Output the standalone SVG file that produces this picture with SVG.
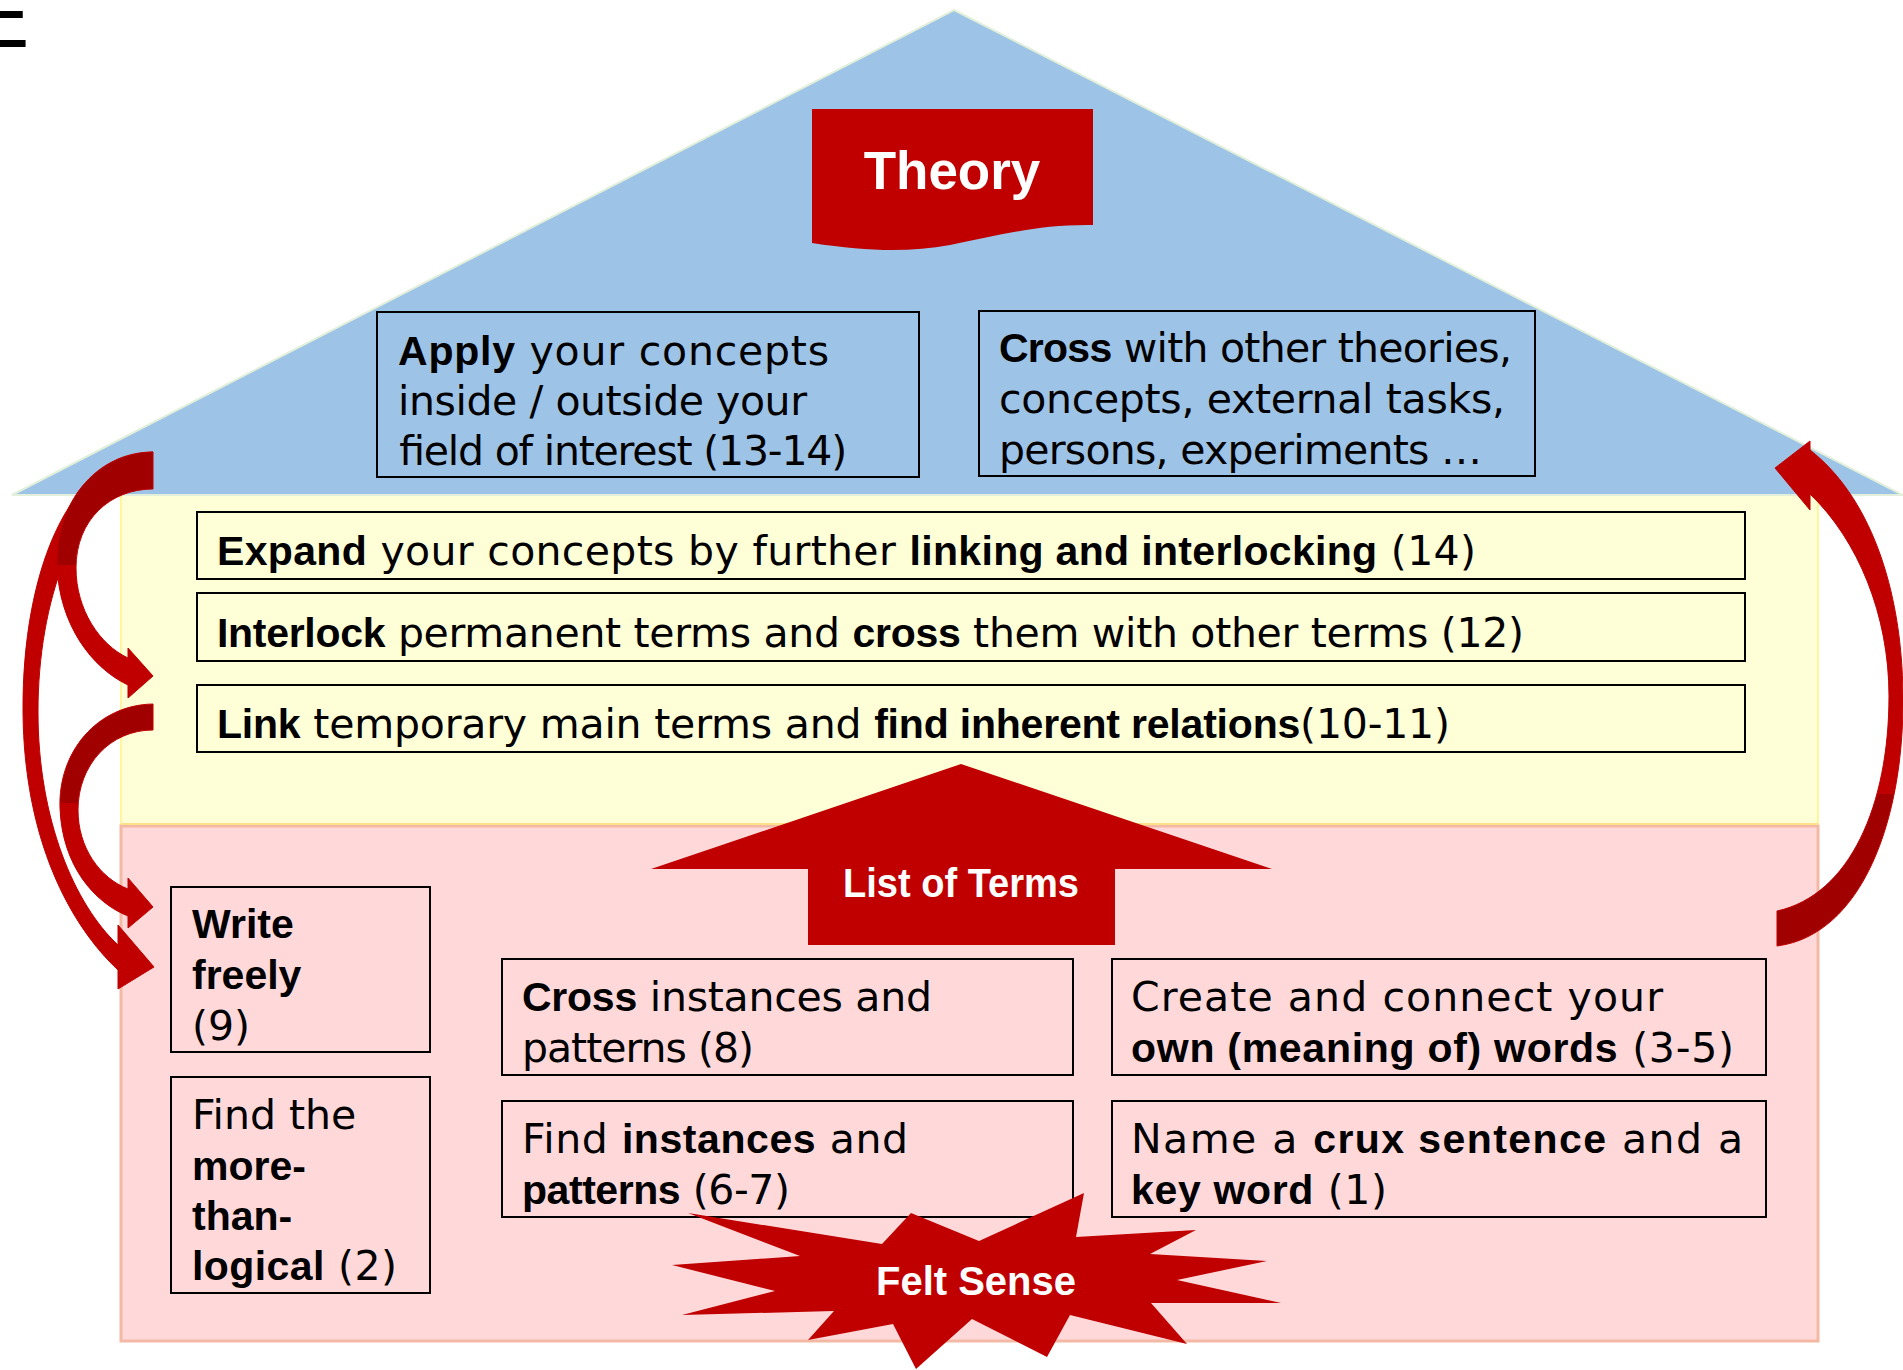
<svg xmlns="http://www.w3.org/2000/svg" width="1903" height="1370" viewBox="0 0 1903 1370">
<defs>
<style>
.box{fill:none;stroke:#000;stroke-width:2}
.t{font-family:"DejaVu Sans",sans-serif;font-size:41px;fill:#000}
.b{font-family:"Liberation Sans",Arial,sans-serif;font-weight:bold}
.w{font-family:"Liberation Sans",Arial,sans-serif;font-weight:bold;fill:#fff;text-anchor:middle}
.red{fill:#C00000}
</style>
<linearGradient id="gA" gradientUnits="userSpaceOnUse" x1="0" y1="452" x2="0" y2="698">
<stop offset="0" stop-color="#A00000"/><stop offset="0.46" stop-color="#A00000"/><stop offset="0.46" stop-color="#C00000"/><stop offset="1" stop-color="#C00000"/>
</linearGradient>
<linearGradient id="gB" gradientUnits="userSpaceOnUse" x1="0" y1="704" x2="0" y2="928">
<stop offset="0" stop-color="#A00000"/><stop offset="0.44" stop-color="#A00000"/><stop offset="0.44" stop-color="#C00000"/><stop offset="1" stop-color="#C00000"/>
</linearGradient>
<linearGradient id="gD" gradientUnits="userSpaceOnUse" x1="0" y1="441" x2="0" y2="946">
<stop offset="0" stop-color="#C00000"/><stop offset="0.7" stop-color="#C00000"/><stop offset="0.7" stop-color="#A00000"/><stop offset="1" stop-color="#A00000"/>
</linearGradient>
</defs>

<g id="background">
<rect x="121" y="495" width="1697" height="330" fill="#FFFFD7" stroke="#FFF59D" stroke-width="2"/>
<rect x="121" y="826" width="1697" height="515" fill="#FFD9D9" stroke="#F4B9A4" stroke-width="3"/>
<line x1="121" y1="824" x2="1818" y2="824" stroke="#FFE08A" stroke-width="2"/>
<polygon id="roof" points="954,10 1903,495 12,495" fill="#9DC3E6" stroke="#E2EFDA" stroke-width="2"/>
<text x="-16" y="47" font-family="Liberation Sans, Arial, sans-serif" font-size="92" fill="#000" transform="scale(0.62,1)">E</text>
</g>

<g id="theory">
<path class="red" d="M812,109 H1093 V225 C1040,224 1000,235 950,245 C910,252 870,252 812,243 Z"/>
<text class="w" x="952" y="189" font-size="53">Theory</text>
</g>

<g id="apply">
<rect class="box" x="377" y="312" width="542" height="165"/>
<text class="t" x="398" y="365" textLength="431"><tspan class="b">Apply</tspan> your concepts</text>
<text class="t" x="398" y="415" textLength="409">inside / outside your</text>
<text class="t" x="398" y="465" textLength="448">field of interest (13-14)</text>
</g>

<g id="cross-theories">
<rect class="box" x="979" y="311" width="556" height="165"/>
<text class="t" x="999" y="362" textLength="513"><tspan class="b">Cross</tspan> with other theories,</text>
<text class="t" x="999" y="413" textLength="506">concepts, external tasks,</text>
<text class="t" x="999" y="464" textLength="483">persons, experiments …</text>
</g>

<g id="expand">
<rect class="box" x="197" y="512" width="1548" height="67"/>
<text class="t" x="217" y="565" textLength="1259"><tspan class="b">Expand</tspan> your concepts by further <tspan class="b">linking and interlocking</tspan> (14)</text>
</g>

<g id="interlock">
<rect class="box" x="197" y="593" width="1548" height="68"/>
<text class="t" x="217" y="647" textLength="1307"><tspan class="b">Interlock</tspan> permanent terms and <tspan class="b">cross</tspan> them with other terms (12)</text>
</g>

<g id="link">
<rect class="box" x="197" y="685" width="1548" height="67"/>
<text class="t" x="217" y="738" textLength="1233"><tspan class="b">Link</tspan> temporary main terms and <tspan class="b">find inherent relations</tspan>(10-11)</text>
</g>

<g id="list-of-terms">
<polygon class="red" points="961,764 1272,869 1115,869 1115,945 808,945 808,869 651,869"/>
<text class="w" x="961" y="897" font-size="40" textLength="236" lengthAdjust="spacingAndGlyphs">List of Terms</text>
</g>

<g id="write-freely">
<rect class="box" x="171" y="887" width="259" height="165"/>
<text class="t" x="192" y="938"><tspan class="b">Write</tspan></text>
<text class="t" x="192" y="989"><tspan class="b">freely</tspan></text>
<text class="t" x="192" y="1040">(9)</text>
</g>

<g id="more-than-logical">
<rect class="box" x="171" y="1077" width="259" height="216"/>
<text class="t" x="192" y="1129">Find the</text>
<text class="t" x="192" y="1180"><tspan class="b">more-</tspan></text>
<text class="t" x="192" y="1230"><tspan class="b">than-</tspan></text>
<text class="t" x="192" y="1280" textLength="205"><tspan class="b">logical</tspan> (2)</text>
</g>

<g id="cross-instances">
<rect class="box" x="502" y="959" width="571" height="116"/>
<text class="t" x="522" y="1011" textLength="410"><tspan class="b">Cross</tspan> instances and</text>
<text class="t" x="522" y="1062" textLength="232">patterns (8)</text>
</g>

<g id="find-instances">
<rect class="box" x="502" y="1101" width="571" height="116"/>
<text class="t" x="522" y="1153" textLength="386">Find <tspan class="b">instances</tspan> and</text>
<text class="t" x="522" y="1204" textLength="268"><tspan class="b">patterns</tspan> (6-7)</text>
</g>

<g id="create-connect">
<rect class="box" x="1112" y="959" width="654" height="116"/>
<text class="t" x="1131" y="1011" textLength="532">Create and connect your</text>
<text class="t" x="1131" y="1062" textLength="603"><tspan class="b">own (meaning of) words</tspan> (3-5)</text>
</g>

<g id="crux">
<rect class="box" x="1112" y="1101" width="654" height="116"/>
<text class="t" x="1131" y="1153" textLength="612">Name a <tspan class="b">crux sentence</tspan> and a</text>
<text class="t" x="1131" y="1204" textLength="256"><tspan class="b">key word</tspan> (1)</text>
</g>

<g id="felt-sense">
<polygon class="red" points="688,1213 800,1256 672,1265 775,1291 682,1315 834,1311 808,1340 893,1324 916,1369 972,1319 1047,1357 1070,1315 1187,1344 1151,1303 1281,1303 1177,1280 1267,1261 1150,1254 1196,1230 1076,1237 1084,1193 979,1241 911,1213 882,1244"/>
<text class="w" x="976" y="1295" font-size="40">Felt Sense</text>
</g>

<g id="connectors">
<path fill="#C00000" stroke="#C00000" stroke-width="1" d="M153,452 C70,455 22,570 23,712 C24,840 70,925 118,970 L118,989 L154,967 L118,925 L118,945 C75,905 38,820 38,712 C38,600 75,500 140,466 Z"/>
<path fill="url(#gA)" stroke="#C00000" stroke-width="1" d="M153,452 C95,452 55,505 57,565 C59,625 92,668 128,685 L128,698 L153,676 L128,648 L128,658 C100,645 76,610 76,568 C76,520 110,489 153,489 Z"/>
<path fill="url(#gB)" stroke="#C00000" stroke-width="1" d="M153,704 C97,705 58,752 60,808 C62,866 95,903 128,916 L128,928 L153,907 L128,878 L128,889 C100,878 78,848 78,810 C78,765 110,730 153,730 Z"/>
<path fill="url(#gD)" stroke="#C00000" stroke-width="1" d="M1777,946 C1862,935 1904,820 1903,696 C1902,585 1868,495 1810,450 L1810,441 L1775,468 L1810,510 L1810,494 C1858,540 1889,615 1889,696 C1889,805 1850,895 1777,911 Z"/>
</g>
</svg>
